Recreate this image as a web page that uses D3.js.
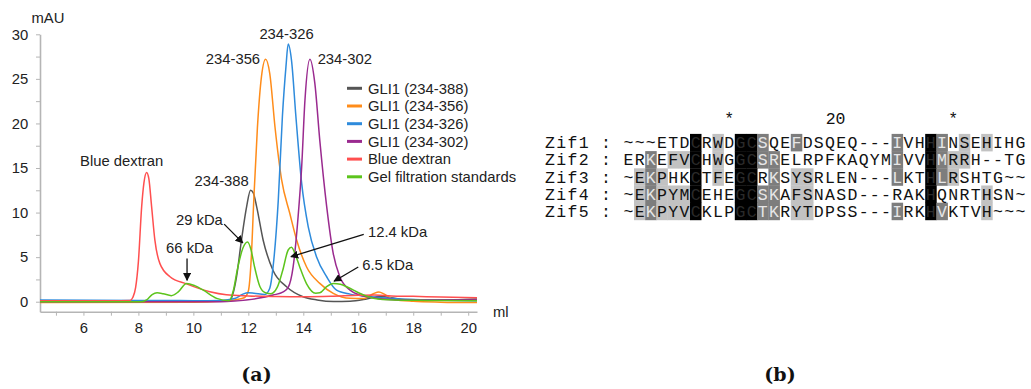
<!DOCTYPE html>
<html><head><meta charset="utf-8">
<script src="https://cdn.jsdelivr.net/npm/d3@7"></script>
<style>body{margin:0;background:#fff}svg{display:block}</style>
</head><body><svg id="c" width="1031" height="389"></svg>
<script>
// ---------- Panel (a) data : elution volume (ml) vs absorbance (mAU) ----------
const seriesNames = ["GLI1 (234-388)","GLI1 (234-356)","GLI1 (234-326)","GLI1 (234-302)","Blue dextran","Gel filtration standards"];
const gli388 = [[4.42,0.05],[11.0,0.05],[11.33,0.12],[11.45,1.0],[11.57,2.8],[11.75,6.9],[11.94,10.7],[12.08,12.5],[12.18,12.2],[12.3,10.7],[12.54,6.9],[12.9,3.5],[13.39,1.68],[13.99,0.56],[14.5,0.2],[15.1,0.02],[15.7,0.05],[16.3,0.3],[16.8,0.6],[17.2,0.45],[17.7,0.25],[18.5,0.2],[19.5,0.22],[20.32,0.3]];
const gli356 = [[4.42,-0.08],[10,-0.05],[11.0,0.05],[11.5,0.2],[11.85,0.45],[12.0,1.2],[12.1,4.5],[12.2,11.5],[12.33,19.5],[12.48,25.3],[12.63,27.2],[12.78,25.6],[12.97,19.6],[13.21,13.7],[13.51,9.9],[13.76,6.9],[14.12,3.9],[14.6,2.06],[15.09,0.94],[15.7,0.38],[16.2,0.35],[16.55,0.9],[16.75,1.1],[16.95,0.85],[17.3,0.25],[18,0.05],[19,-0.05],[20.32,-0.1]];
const gli326 = [[4.42,0.18],[8,0.15],[10,0.12],[11.0,0.15],[11.5,0.35],[11.8,0.85],[12.0,1.0],[12.2,0.95],[12.6,0.8],[12.78,1.5],[12.9,3.9],[13.09,11.4],[13.24,20.8],[13.37,26.4],[13.45,28.9],[13.57,27.1],[13.73,20.8],[13.94,13.3],[14.18,8.4],[14.48,5.05],[14.85,2.8],[15.21,1.3],[15.7,0.85],[16.3,0.6],[17.5,0.3],[18.5,0.2],[20.32,0.1]];
const gli302 = [[4.42,0.0],[11.0,0.0],[11.5,0.07],[12.3,0.35],[12.9,0.75],[13.27,1.1],[13.45,1.6],[13.63,3.9],[13.81,9.5],[13.94,15.1],[14.06,22.6],[14.24,27.2],[14.42,24.5],[14.6,18.1],[14.85,10.7],[15.09,5.4],[15.33,2.8],[15.7,1.3],[16.3,0.56],[17.5,0.2],[20.32,0.2]];
const blueDextran = [[4.42,0.12],[7.0,0.12],[7.7,0.15],[7.8,0.5],[7.9,1.6],[8.0,4.5],[8.12,10.7],[8.2,13.3],[8.3,14.5],[8.38,13.8],[8.48,10.7],[8.6,6.9],[8.78,4.3],[9.15,2.8],[9.75,2.0],[10.6,1.12],[11.2,0.78],[12,0.65],[13,0.58],[14,0.55],[15,0.6],[16,0.72],[16.6,0.75],[17.2,0.65],[18,0.6],[19,0.52],[20.32,0.45]];
const gelStandards = [[4.42,0.0],[8.1,0.0],[8.3,0.2],[8.5,0.8],[8.68,1.0],[8.9,0.9],[9.2,0.68],[9.45,1.1],[9.75,2.05],[10.05,1.8],[10.36,1.3],[10.85,0.38],[11.3,0.12],[11.45,1.2],[11.6,3.6],[11.8,6.0],[11.97,6.7],[12.1,5.8],[12.22,4.0],[12.42,1.7],[12.62,1.0],[12.82,0.9],[13.05,1.6],[13.25,3.5],[13.45,5.8],[13.57,6.1],[13.72,5.2],[13.87,3.9],[14.12,2.0],[14.45,0.95],[14.6,1.0],[14.85,1.7],[15.1,2.05],[15.35,1.95],[15.6,1.65],[16.05,0.95],[16.55,0.4],[17.3,0.2],[18.5,0.15],[20.32,0.12]];
const xTicks = [5,6,7,8,9,10,11,12,13,14,15,16,17,18,19,20];
const xTickLabels = [6,8,10,12,14,16,18,20];
const yTicks = [0,2.5,5,7.5,10,12.5,15,17.5,20,22.5,25,27.5,30];
const yTickLabels = [0,5,10,15,20,25,30];
// peak labels [text, ml, mAU]
const peakLabels = [["234-326",13.39,29.5],["234-356",11.44,26.7],["234-302",15.51,26.7],["Blue dextran",7.39,15.25],["234-388",11.03,13.0]];
// arrow annotations [text, textMl, textMAU, fromMl, fromMAU, toMl, toMAU]
const arrowLabels = [["66 kDa",9.86,5.45,9.77,4.85,9.77,2.4],["29 kDa",10.22,8.66,11.12,8.7,11.8,6.6],["12.4 kDa",17.43,7.27,16.2,7.55,13.55,5.05],["6.5 kDa",17.07,3.61,16.0,3.9,15.12,2.3]];

// ---------- Panel (b) data : zinc-finger alignment ----------
const seqNames = ["Zif1","Zif2","Zif3","Zif4","Zif5"];
const seqs = [
 "~~~ETDCRWDGCSQEFDSQEQ---IVHHINSEHIHG",
 "ERKEFVCHWGGCSRELRPFKAQYMIVVHMRRH--TG",
 "~EKPHKCTFEGCRKSYSRLEN---LKTHLRSHTG~~",
 "~EKPYMCEHEGCSKAFSNASD---RAKHQNRTHSN~",
 "~EKPYVCKLPGCTKRYTDPSS---IRKHVKTVH~~~"];
// conservation shading: k = 100 %, d = 80 %, l = 60 %, . = none
const shading = [
 "......k.l.kkd..d........d..kd.l.l...",
 "..d.llk.l.kkdd..........d..kdll.....",
 ".ldl..k.l.kk.d.ll.......d..kdl......",
 ".ldlllk...kkdd.ll..........k....l...",
 ".ldlllk...kkdd.ll.......d..kd...l..."];
const rulerMarks = [[9,"*"],[19,"20"],[29,"*"]];

const colors = ["#555555","#ff8c1a","#2e8bdc","#9a2a8f","#ff4f4f","#5cc41c"];
const svg = d3.select("#c");
svg.append("rect").attr("width",1031).attr("height",389).attr("fill","#fff");
const sans = "'Liberation Sans', Arial, sans-serif";
const fs = "14.8px";

const x = d3.scaleLinear().domain([4.42,20.32]).range([40,477]);
const y = d3.scaleLinear().domain([-1.12,30]).range([311.7,34.3]);

const gA = svg.append("g");
const xAxis = d3.axisBottom(x).tickValues(xTicks).tickSize(4).tickSizeOuter(0).tickPadding(7.3)
  .tickFormat(d => xTickLabels.includes(d) ? d : "");
const yAxis = d3.axisLeft(y).tickValues(yTicks).tickSize(4).tickSizeOuter(0).tickPadding(7.7)
  .tickFormat(d => yTickLabels.includes(d) ? d : "");
const gx = gA.append("g").attr("transform","translate(0,311.7)").call(xAxis);
const gy = gA.append("g").attr("transform","translate(40,0)").call(yAxis);
[gx,gy].forEach(g=>{
  g.select(".domain").attr("stroke","#b5b5b5").attr("stroke-width",1.6);
  g.selectAll(".tick line").attr("stroke","#b5b5b5").attr("stroke-width",1);
  g.selectAll(".tick text").attr("fill","#222").style("font-family",sans).style("font-size",fs);
});
gA.append("text").attr("x",31.5).attr("y",23).text("mAU").attr("fill","#222").style("font-family",sans).style("font-size",fs);
gA.append("text").attr("x",493).attr("y",317).text("ml").attr("fill","#222").style("font-family",sans).style("font-size",fs);

const allSeries = [gli388,gli356,gli326,gli302,blueDextran,gelStandards];
const line = d3.line().x(d=>x(d[0])).y(d=>y(d[1])).curve(d3.curveMonotoneX);
allSeries.forEach((s,i)=>{
  gA.append("path").attr("d",line(s)).attr("fill","none").attr("stroke",colors[i]).attr("stroke-width",1.5);
});

// legend
const lg = gA.append("g");
seriesNames.forEach((n,i)=>{
  const yy = 88.3 + i*17.7;
  lg.append("line").attr("x1",347).attr("x2",362).attr("y1",yy).attr("y2",yy).attr("stroke",colors[i]).attr("stroke-width",3);
  lg.append("text").attr("x",368).attr("y",yy+5.2).text(n).attr("fill","#222").style("font-family",sans).style("font-size",fs);
});

// peak labels
peakLabels.forEach(p=>{
  gA.append("text").attr("x",x(p[1])).attr("y",y(p[2])).attr("text-anchor","middle").text(p[0])
    .attr("fill","#222").style("font-family",sans).style("font-size",fs);
});
// arrows
const defs = svg.append("defs");
defs.append("marker").attr("id","ah").attr("viewBox","0 0 10 10").attr("refX",9).attr("refY",5)
  .attr("markerWidth",8).attr("markerHeight",8).attr("markerUnits","userSpaceOnUse").attr("orient","auto")
  .append("path").attr("d","M0,0L10,5L0,10Z").attr("fill","#111");
arrowLabels.forEach(a=>{
  gA.append("text").attr("x",x(a[1])).attr("y",y(a[2])).attr("text-anchor","middle").text(a[0])
    .attr("fill","#222").style("font-family",sans).style("font-size",fs);
  gA.append("line").attr("x1",x(a[3])).attr("y1",y(a[4])).attr("x2",x(a[5])).attr("y2",y(a[6]))
    .attr("stroke","#111").attr("stroke-width",1.3).attr("marker-end","url(#ah)");
});

// ---------- Panel (b) ----------
const cw = 11.2, x0 = 622.8, rowH = 17.2, top0 = 133.9;
const colX = d3.scaleLinear().domain([0,1]).range([x0,x0+cw]);
const rowY = d3.scaleBand().domain(seqNames).range([top0, top0+rowH*seqNames.length]).padding(0);
const mono = "'Liberation Mono', 'DejaVu Sans Mono', monospace";
const mfs = "16.5px";
const fillFor = {k:"#000000", d:"#7d7d7d", l:"#c2c2c2"};
const textFor = {k:"#2a2a2a", d:"#e6e6e6", l:"#111111", ".":"#111111"};
const gB = svg.append("g");
seqNames.forEach((nm,r)=>{
  const yTop = rowY(nm);
  for(let c=0;c<seqs[r].length;c++){
    const s = shading[r][c];
    if(s!=="."){
      gB.append("rect").attr("x",colX(c)).attr("y",yTop).attr("width",cw+0.3).attr("height",rowH+0.3).attr("fill",fillFor[s]);
    }
  }
});
seqNames.forEach((nm,r)=>{
  const yTop = rowY(nm);
  const lab = nm+" : ";
  for(let c=0;c<lab.length;c++){
    gB.append("text").attr("x",colX(c-lab.length)+cw/2).attr("y",yTop+rowH/2+5.6).attr("text-anchor","middle")
      .text(lab[c]).attr("fill","#111").style("font-family",mono).style("font-size",mfs);
  }
  for(let c=0;c<seqs[r].length;c++){
    gB.append("text").attr("x",colX(c)+cw/2).attr("y",yTop+rowH/2+5.6).attr("text-anchor","middle")
      .text(seqs[r][c]).attr("fill",textFor[shading[r][c]]).style("font-family",mono).style("font-size",mfs);
  }
});
rulerMarks.forEach(m=>{
  const cx = m[1].length===1 ? colX(m[0])+cw/2 : colX(m[0]);
  gB.append("text").attr("x",cx).attr("y",124).attr("text-anchor","middle").text(m[1])
    .attr("fill","#111").style("font-family",mono).style("font-size",mfs);
});

// panel captions
const serif = "'DejaVu Serif', 'Liberation Serif', serif";
svg.append("text").attr("x",256.5).attr("y",381).attr("text-anchor","middle").text("(a)")
  .attr("fill","#111").style("font-family",serif).style("font-weight","bold").style("font-size","19px");
svg.append("text").attr("x",780).attr("y",381).attr("text-anchor","middle").text("(b)")
  .attr("fill","#111").style("font-family",serif).style("font-weight","bold").style("font-size","19px");
</script></body></html>
